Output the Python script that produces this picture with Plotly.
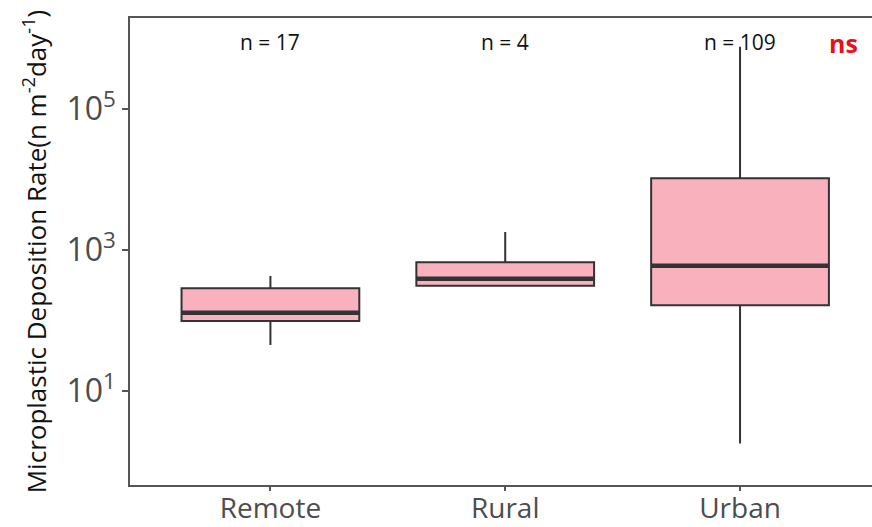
import plotly.graph_objects as go

# Summary statistics of microplastic deposition (n m^-2 day^-1) by site type
categories = ["Remote", "Rural", "Urban"]
sample_sizes = [17, 4, 109]
lower_whisker = [45, 312, 1.8]
q1 = [98, 312, 164]
median = [129, 392, 598]
q3 = [286, 668, 10400]
upper_whisker = [428, 1800, 760000]
y_tick_vals = [10, 1000, 100000]
y_tick_text = ["10<sup>1</sup>", "10<sup>3</sup>", "10<sup>5</sup>"]

box_width = 0.757
fill = "#F9B2BD"
edge = "#333333"
positions = list(range(len(categories)))

fig = go.Figure()
for i, cat in enumerate(categories):
    fig.add_trace(go.Box(
        x=[positions[i]], q1=[q1[i]], median=[median[i]], q3=[q3[i]],
        lowerfence=[lower_whisker[i]], upperfence=[upper_whisker[i]],
        width=box_width, fillcolor=fill, line=dict(color=edge, width=2),
        whiskerwidth=0, boxpoints=False, showlegend=False, name=cat,
        hoverinfo="skip",
    ))
    # thicker median bar
    fig.add_trace(go.Scatter(
        x=[positions[i] - box_width / 2, positions[i] + box_width / 2],
        y=[median[i], median[i]], mode="lines",
        line=dict(color=edge, width=4.5), showlegend=False, hoverinfo="skip",
    ))
    fig.add_annotation(
        x=positions[i], y=1.0, xref="x", yref="paper", yanchor="middle",
        yshift=-24, text=f"n = {sample_sizes[i]}", showarrow=False,
        font=dict(family="Open Sans", size=21, color="#111111"),
    )

fig.add_annotation(
    x=2.44, y=1.0, xref="x", yref="paper", yanchor="middle", yshift=-25,
    text="<b>ns</b>", showarrow=False,
    font=dict(family="Open Sans", size=25, color="#E8101A"),
)

fig.update_xaxes(
    range=[-0.598, 2.562], tickvals=positions, ticktext=categories,
    showline=True, linecolor="#555555", linewidth=1.5, mirror=True,
    ticks="outside", ticklen=4, tickcolor="#555555", tickwidth=1.5,
    ticklabelstandoff=-6,
    tickfont=dict(family="Open Sans", size=28, color="#4d4d4d"),
    showgrid=False, zeroline=False, automargin=False,
)
fig.update_yaxes(
    type="log", range=[-0.333, 6.29], tickvals=y_tick_vals, ticktext=y_tick_text,
    showline=True, linecolor="#555555", linewidth=1.5, mirror=False,
    ticks="outside", ticklen=6, tickcolor="#555555", tickwidth=1.5,
    tickfont=dict(family="Open Sans", size=32, color="#4d4d4d"),
    showgrid=False, zeroline=False, automargin=False,
    title=dict(text="Microplastic Deposition Rate(n m<sup>-2</sup>day<sup>-1</sup>)",
               font=dict(family="Open Sans", size=26, color="#111111"), standoff=12),
)
fig.update_layout(
    width=872, height=527, margin=dict(l=130, r=0, t=18, b=42),
    plot_bgcolor="white", paper_bgcolor="white",
)
fig.write_html("out.html")
